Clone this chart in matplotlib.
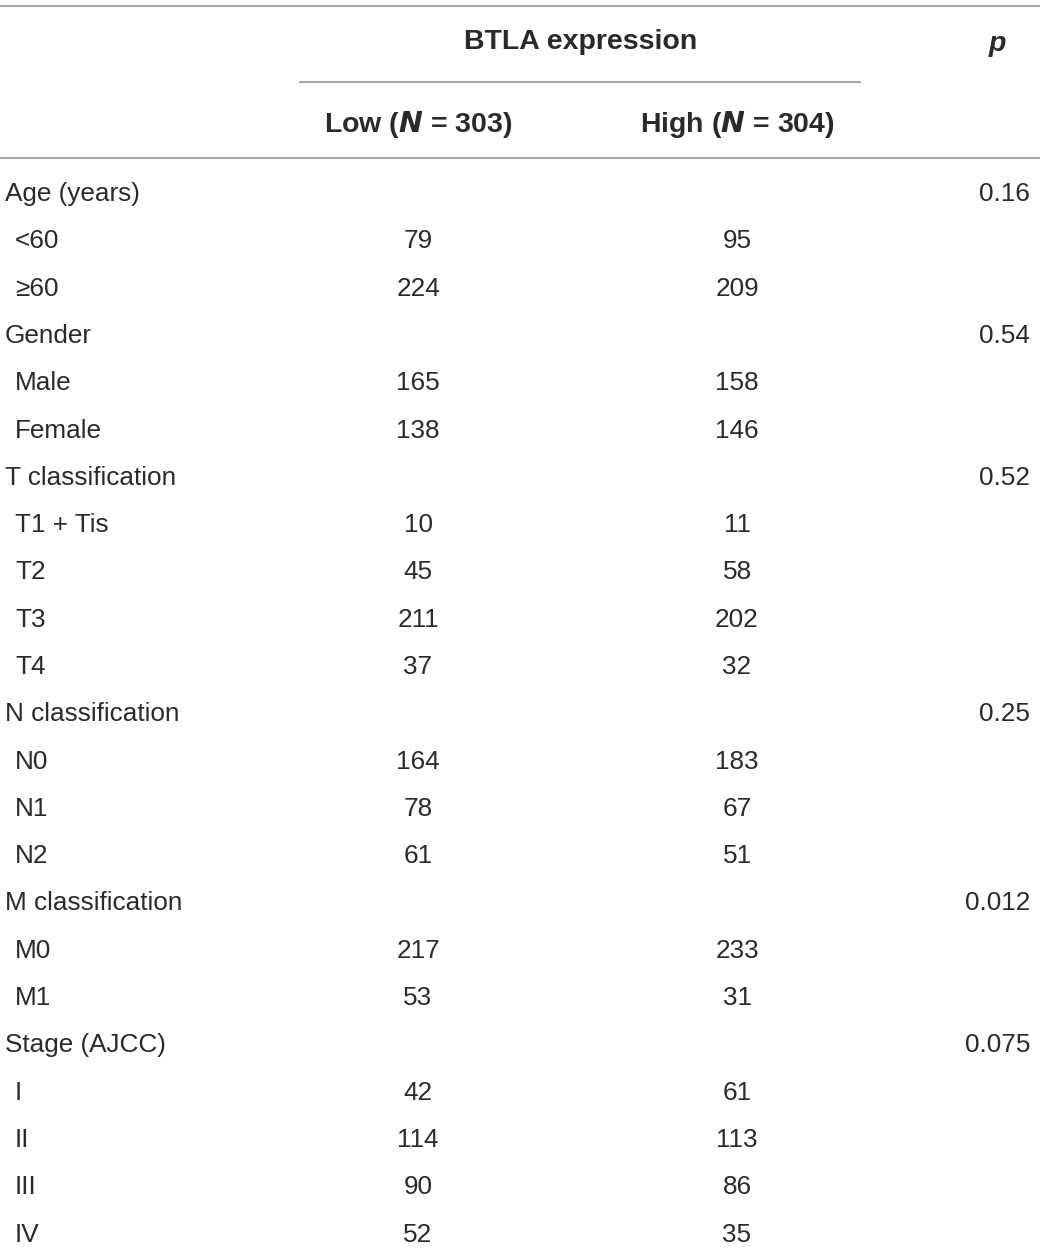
import matplotlib.pyplot as plt

plt.rcParams['font.family'] = ['Liberation Sans', 'DejaVu Sans']

groups = ["Age (years)", "Gender", "T classification", "N classification",
          "M classification", "Stage (AJCC)"]
p_values = ["0.16", "0.54", "0.52", "0.25", "0.012", "0.075"]
levels = [
    ["<60", "\u226560"],
    ["Male", "Female"],
    ["T1 + Tis", "T2", "T3", "T4"],
    ["N0", "N1", "N2"],
    ["M0", "M1"],
    ["I", "II", "III", "IV"],
]
low_counts = [[79, 224], [165, 138], [10, 45, 211, 37], [164, 78, 61],
              [217, 53], [42, 114, 90, 52]]
high_counts = [[95, 209], [158, 146], [11, 58, 202, 32], [183, 67, 51],
               [233, 31], [61, 113, 86, 35]]

W, H = 1040, 1251
fig = plt.figure(figsize=(W / 100, H / 100), dpi=100)
ax = fig.add_axes([0, 0, 1, 1])
ax.set_xlim(0, W)
ax.set_ylim(H, 0)
ax.axis('off')

txt = '#2a2a2a'
line_c = '#8a8a8a'
fs = 18.8
hfs = 20.5
x_low, x_high, x_p = 418, 737, 1030

# header
ax.plot([0, W], [6, 6], color=line_c, lw=1.1)
ax.plot([300, 860], [82, 82], color=line_c, lw=1.1)
ax.plot([0, W], [158, 158], color=line_c, lw=1.1)
ax.text(581, 42, "BTLA expression", ha='center', va='center', fontsize=hfs,
        fontweight='bold', color=txt)
ax.text(997, 44, "p", ha='center', va='center', fontsize=hfs,
        fontweight='bold', style='italic', color=txt)
ax.text(x_low, 124, r"Low ($\boldsymbol{N}$ = 303)", ha='center', va='center',
        fontsize=hfs, fontweight='bold', color=txt)
ax.text(x_high, 124, r"High ($\boldsymbol{N}$ = 304)", ha='center', va='center',
        fontsize=hfs, fontweight='bold', color=txt)

y = 194
dy = 47.3
for g, p, labs, lows, highs in zip(groups, p_values, levels, low_counts, high_counts):
    ax.text(5, y, g, ha='left', va='center', fontsize=fs, color=txt)
    ax.text(x_p, y, p, ha='right', va='center', fontsize=fs, color=txt)
    y += dy
    for lab, lo, hi in zip(labs, lows, highs):
        ax.text(15, y, lab, ha='left', va='center', fontsize=fs, color=txt)
        ax.text(x_low, y, str(lo), ha='center', va='center', fontsize=fs, color=txt)
        ax.text(x_high, y, str(hi), ha='center', va='center', fontsize=fs, color=txt)
        y += dy

fig.savefig('out.png', dpi=100, facecolor='white')
